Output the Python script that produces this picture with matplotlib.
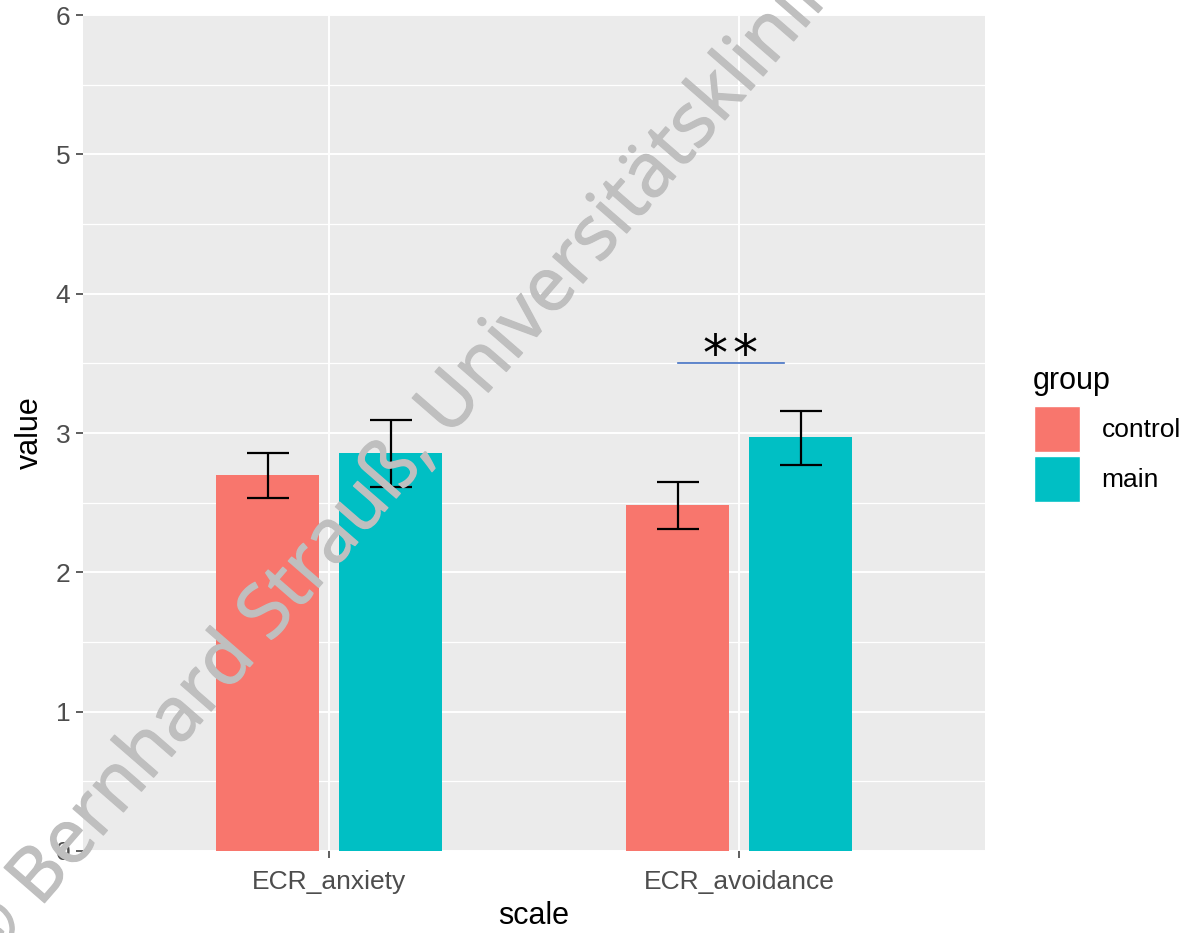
import numpy as np
import matplotlib
matplotlib.use("Agg")
import matplotlib.pyplot as plt
import matplotlib.patheffects as pe
from matplotlib.patches import Patch

# data
scales = ["ECR_anxiety", "ECR_avoidance"]
groups = ["control", "main"]
colors = ["#F8766D", "#00BFC4"]
means = {
    "control": [2.70, 2.48],
    "main": [2.86, 2.97],
}
ci_low = {
    "control": [2.53, 2.31],
    "main": [2.61, 2.77],
}
ci_high = {
    "control": [2.86, 2.65],
    "main": [3.09, 3.16],
}
sig_span = [0.85, 1.11]
sig_y = 3.5
sig_label = "*\u200a*"

bar_width = 0.25
offsets = [-0.15, 0.15]

fig = plt.figure(figsize=(11.83, 9.33), dpi=100)
ax = fig.add_axes([83 / 1183, 82 / 933, 902 / 1183, 836 / 933])
ax.set_facecolor("#EBEBEB")
for s in ax.spines.values():
    s.set_visible(False)

x = np.arange(len(scales))
for g, c, off in zip(groups, colors, offsets):
    xs = x + off
    m = np.array(means[g])
    lo = m - np.array(ci_low[g])
    hi = np.array(ci_high[g]) - m
    ax.bar(xs, m, width=bar_width, color=c, zorder=2)
    ax.errorbar(xs, m, yerr=[lo, hi], fmt="none", ecolor="black",
                elinewidth=1.6, capsize=14.8, capthick=1.6, zorder=3)

# significance marker
ax.plot(sig_span, [sig_y, sig_y], color="#4472C4", lw=1.2, zorder=4)
ax.text(np.mean(sig_span), sig_y - 0.045, sig_label, ha="center", va="baseline",
        fontsize=36, family="DejaVu Sans", color="black", zorder=4)

ax.set_xlim(-0.6, 1.6)
ax.set_ylim(0, 6)
ax.set_xticks(x)
ax.set_xticklabels(scales)
ax.set_yticks(np.arange(0, 7))
ax.set_yticks(np.arange(0.5, 6, 1), minor=True)
ax.grid(which="major", color="white", lw=1.4, zorder=0)
ax.grid(which="minor", axis="y", color="white", lw=0.9, zorder=0)
ax.set_axisbelow(True)
ax.tick_params(which="major", length=5, width=1.1, color="#333333",
               labelsize=19, labelcolor="#4D4D4D")
ax.tick_params(axis="x", which="major", pad=9)
ax.tick_params(axis="y", which="major", pad=4)
ax.tick_params(which="minor", length=0)
for lab in ax.get_xticklabels() + ax.get_yticklabels():
    lab.set_family("Liberation Sans")

ax.set_xlabel("scale", fontsize=22, family="Liberation Sans", labelpad=5)
ax.set_ylabel("value", fontsize=22, family="Liberation Sans", labelpad=8)

# legend: title placed on its own so the gap to the keys matches
handles = [Patch(facecolor=c, edgecolor="white", lw=1) for c in colors]
leg = fig.legend(handles, groups, loc="upper left",
                 bbox_to_anchor=(1034 / 1183, 1 - 406 / 933), frameon=False,
                 prop={"family": "Liberation Sans", "size": 19},
                 handlelength=1.74, handleheight=2.3, labelspacing=0.15,
                 handletextpad=0.82, borderpad=0, borderaxespad=0)
fig.text(1033 / 1183, 1 - 381 / 933, "group", ha="left", va="center",
         fontsize=22, family="Liberation Sans", color="black")

# watermark
fig.text(-14 / 1183, 1 - 970 / 933, "© Bernhard Strauß, Universitätsklinikum Jena",
         rotation=49, rotation_mode="anchor", ha="left", va="baseline",
         fontsize=54, family="Open Sans", color="#BFBFBF", zorder=10,
         path_effects=[pe.withStroke(linewidth=1.0, foreground="#BFBFBF")])

fig.savefig("out.png", dpi=100)
